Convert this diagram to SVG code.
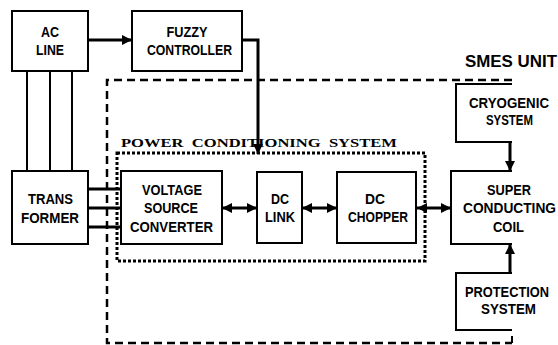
<svg xmlns="http://www.w3.org/2000/svg" width="558" height="345" viewBox="0 0 558 345">
<style>
.box{fill:#fff;stroke:#000;stroke-width:2}
.open{fill:none;stroke:#000;stroke-width:2}
.t{font-family:"Liberation Sans",Arial,sans-serif;font-weight:bold;font-size:15px;fill:#000;text-anchor:middle}
.w{fill:none;stroke:#000;stroke-width:2}
.a{fill:none;stroke:#000;stroke-width:3}
.pcs{font-family:"Liberation Serif","Times New Roman",serif;font-weight:bold;font-size:13.5px;fill:#000}
</style>
<defs>
<marker id="ah" viewBox="0 0 10 10" refX="10" refY="5" markerWidth="10" markerHeight="10" markerUnits="userSpaceOnUse" orient="auto-start-reverse">
<path d="M0,0 L10,5 L0,10 Z" fill="#000"/>
</marker>
</defs>
<g id="smes-unit">
<path d="M512,80 H107 V343 H512" fill="none" stroke="#000" stroke-width="2.5" stroke-dasharray="8,5"/>
<line x1="512" y1="336" x2="512" y2="343" stroke="#000" stroke-width="2"/>
<text class="t" x="511" y="67" style="font-size:16.5px" textLength="92" lengthAdjust="spacingAndGlyphs">SMES UNIT</text>
</g>
<g id="pcs">
<rect x="117" y="153" width="308" height="108" fill="none" stroke="#000" stroke-width="3" stroke-dasharray="3,2"/>
<text class="pcs" x="121" y="147" textLength="276" lengthAdjust="spacingAndGlyphs" xml:space="preserve">POWER  CONDITIONING  SYSTEM</text>
</g>
<g id="connectors">
<line class="w" x1="27" y1="71" x2="27" y2="171"/>
<line class="w" x1="50" y1="71" x2="50" y2="171"/>
<line class="w" x1="72" y1="71" x2="72" y2="171"/>
<line class="a" x1="88" y1="189" x2="121" y2="189"/>
<line class="a" x1="88" y1="208" x2="121" y2="208"/>
<line class="a" x1="88" y1="227" x2="121" y2="227"/>
<line class="a" x1="88" y1="40" x2="132" y2="40" marker-end="url(#ah)"/>
<path class="a" d="M242,40 H258 V154" marker-end="url(#ah)"/>
<line class="a" x1="222" y1="208" x2="257" y2="208" marker-start="url(#ah)" marker-end="url(#ah)"/>
<line class="a" x1="302" y1="208" x2="337" y2="208" marker-start="url(#ah)" marker-end="url(#ah)"/>
<line class="a" x1="417" y1="208" x2="451" y2="208" marker-start="url(#ah)" marker-end="url(#ah)"/>
<line class="a" x1="510" y1="142" x2="510" y2="171" marker-end="url(#ah)"/>
<line class="a" x1="510" y1="273" x2="510" y2="244" marker-end="url(#ah)"/>
</g>
<g id="ac-line">
<rect class="box" x="12" y="11" width="76" height="60"/>
<text class="t" x="50" y="37" textLength="18" lengthAdjust="spacingAndGlyphs">AC</text>
<text class="t" x="50" y="55" textLength="28" lengthAdjust="spacingAndGlyphs">LINE</text>
</g>
<g id="fuzzy-controller">
<rect class="box" x="132" y="11" width="110" height="60"/>
<text class="t" x="187" y="37" textLength="41" lengthAdjust="spacingAndGlyphs">FUZZY</text>
<text class="t" x="189.5" y="55" textLength="85" lengthAdjust="spacingAndGlyphs">CONTROLLER</text>
</g>
<g id="transformer">
<rect class="box" x="12" y="171" width="76" height="73"/>
<text class="t" x="50.5" y="204" textLength="45" lengthAdjust="spacingAndGlyphs">TRANS</text>
<text class="t" x="50" y="223" textLength="58" lengthAdjust="spacingAndGlyphs">FORMER</text>
</g>
<g id="vsc">
<rect class="box" x="121" y="171" width="101" height="73"/>
<text class="t" x="172" y="195" textLength="60" lengthAdjust="spacingAndGlyphs">VOLTAGE</text>
<text class="t" x="171" y="213" textLength="54" lengthAdjust="spacingAndGlyphs">SOURCE</text>
<text class="t" x="171.5" y="232" textLength="83" lengthAdjust="spacingAndGlyphs">CONVERTER</text>
</g>
<g id="dc-link">
<rect class="box" x="257" y="172" width="45" height="71"/>
<text class="t" x="280" y="204" textLength="18" lengthAdjust="spacingAndGlyphs">DC</text>
<text class="t" x="280" y="222" textLength="30" lengthAdjust="spacingAndGlyphs">LINK</text>
</g>
<g id="dc-chopper">
<rect class="box" x="337" y="172" width="79" height="71"/>
<text class="t" x="375" y="204" textLength="20" lengthAdjust="spacingAndGlyphs">DC</text>
<text class="t" x="378" y="222" textLength="60" lengthAdjust="spacingAndGlyphs">CHOPPER</text>
</g>
<g id="cryogenic">
<path class="open" d="M512,84 H456 V142 H512"/>
<text class="t" x="509" y="108" textLength="80" lengthAdjust="spacingAndGlyphs">CRYOGENIC</text>
<text class="t" x="509.5" y="125" textLength="47" lengthAdjust="spacingAndGlyphs">SYSTEM</text>
</g>
<g id="super-coil">
<path class="open" d="M512,171 H451 V244 H512"/>
<text class="t" x="509" y="195" textLength="44" lengthAdjust="spacingAndGlyphs">SUPER</text>
<text class="t" x="509.5" y="213" textLength="93" lengthAdjust="spacingAndGlyphs">CONDUCTING</text>
<text class="t" x="508.5" y="232" textLength="31" lengthAdjust="spacingAndGlyphs">COIL</text>
</g>
<g id="protection">
<path class="open" d="M512,273 H456 V330 H512"/>
<text class="t" x="507" y="297" textLength="84" lengthAdjust="spacingAndGlyphs">PROTECTION</text>
<text class="t" x="508.5" y="314" textLength="55" lengthAdjust="spacingAndGlyphs">SYSTEM</text>
</g>
</svg>
